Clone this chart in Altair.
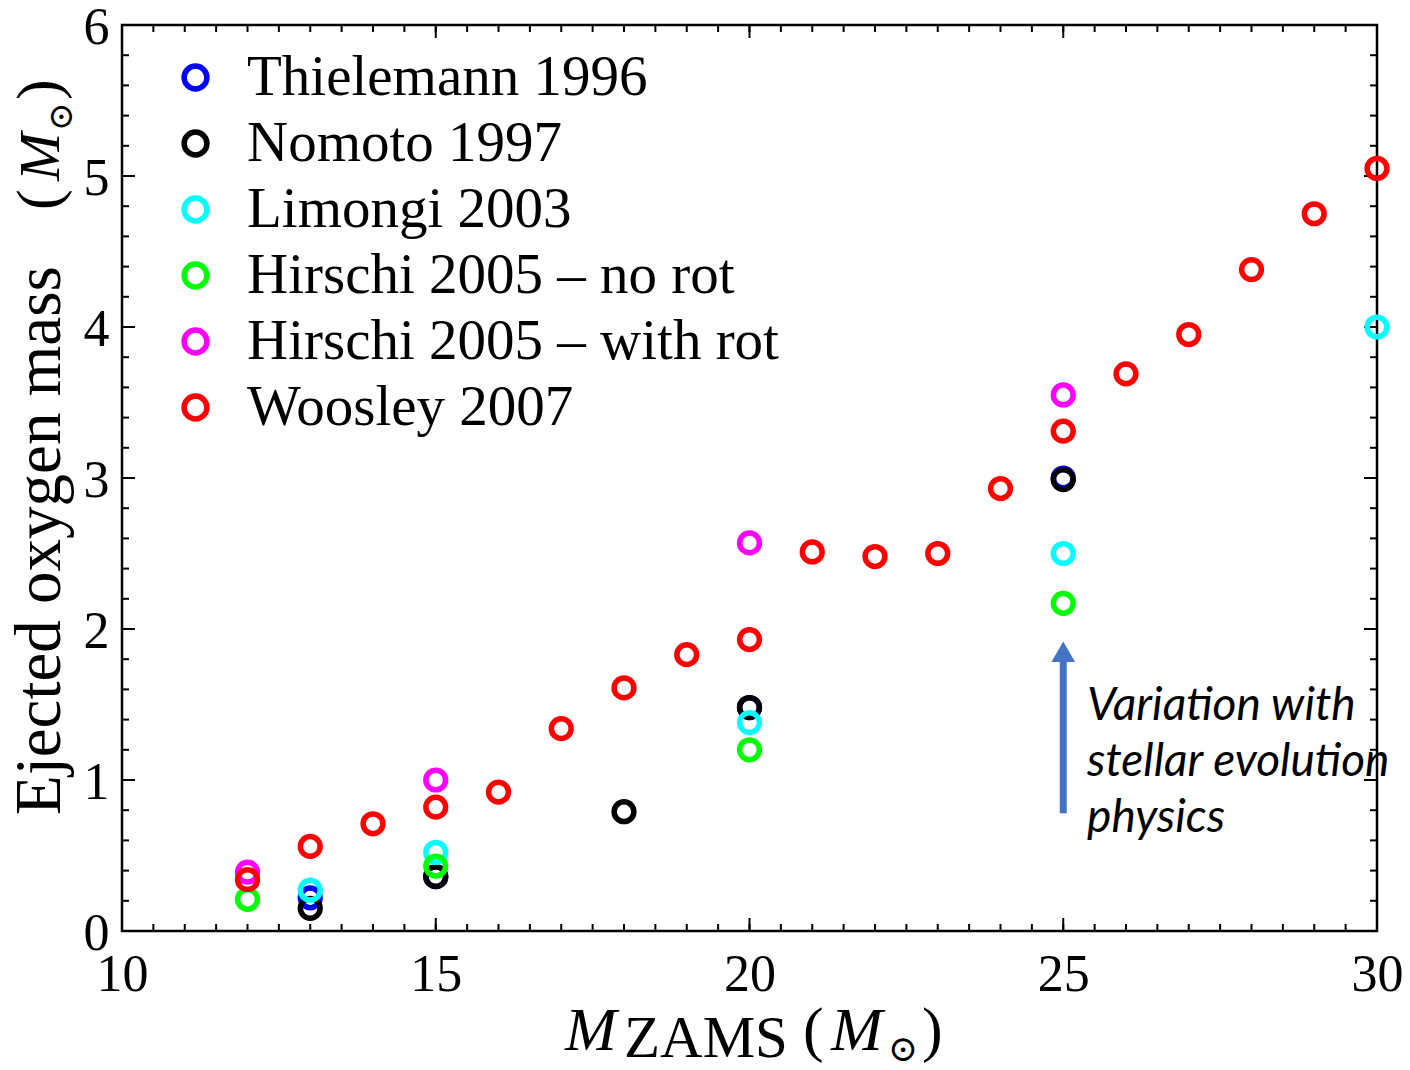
import altair as alt
import pandas as pd

# ---------------- data ----------------
series_names = ["Thielemann 1996", "Nomoto 1997", "Limongi 2003",
                "Hirschi 2005 – no rot", "Hirschi 2005 – with rot", "Woosley 2007"]
series_colors = ["#0000ff", "#000000", "#00ffff", "#00ff00", "#ff00ff", "#ff0000"]

thielemann_x = [13, 15, 20, 25]
thielemann_y = [0.22, 0.36, 1.48, 3.00]
nomoto_x = [13, 15, 18, 20, 25]
nomoto_y = [0.15, 0.36, 0.79, 1.48, 2.99]
limongi_x = [13, 15, 20, 25, 30]
limongi_y = [0.27, 0.52, 1.38, 2.50, 4.00]
hirschi_norot_x = [12, 15, 20, 25]
hirschi_norot_y = [0.21, 0.43, 1.20, 2.17]
hirschi_rot_x = [12, 15, 20, 25]
hirschi_rot_y = [0.39, 1.00, 2.57, 3.55]
woosley_x = [12, 13, 14, 15, 16, 17, 18, 19, 20, 21, 22, 23, 24, 25, 26, 27, 28, 29, 30]
woosley_y = [0.34, 0.56, 0.71, 0.82, 0.92, 1.34, 1.61, 1.83, 1.93, 2.51, 2.48, 2.50,
             2.93, 3.31, 3.69, 3.95, 4.38, 4.75, 5.05]

x_tick_labels = [10, 15, 20, 25, 30]
y_tick_labels = [0, 1, 2, 3, 4, 5, 6]
x_minor = [10 + 0.5 * i for i in range(41)]
y_minor = [0.2 * i for i in range(31)]

arrow_x = [25]
arrow_y0 = [0.78]
arrow_y1 = [1.80]
arrow_head_y = [1.85]
note_lines = ["Variation with", "stellar evolution", "physics"]
note_x = [25.38]
note_y = [1.40]

# ---------------- layout ----------------
W, H = 1255, 906
SERIF = "Liberation Serif"

rows = []
for name, xs, ys in zip(series_names,
                        [thielemann_x, nomoto_x, limongi_x, hirschi_norot_x, hirschi_rot_x, woosley_x],
                        [thielemann_y, nomoto_y, limongi_y, hirschi_norot_y, hirschi_rot_y, woosley_y]):
    for a, b in zip(xs, ys):
        rows.append({"series": name, "m": a, "o": b})
df = pd.DataFrame(rows)

xscale = alt.Scale(domain=[10, 30], nice=False, zero=False)
yscale = alt.Scale(domain=[0, 6], nice=False, zero=False)

points = alt.Chart(df).mark_point(filled=False, strokeWidth=5.5, size=390, opacity=1).encode(
    x=alt.X("m:Q", scale=xscale,
            axis=alt.Axis(values=x_tick_labels, ticks=False, domain=False, grid=False,
                          labelFont=SERIF, labelFontSize=52, labelColor="black",
                          labelFlush=False, labelOverlap=False,
                          labelPadding=18, title=None, format="d")),
    y=alt.Y("o:Q", scale=yscale,
            axis=alt.Axis(values=y_tick_labels, ticks=False, domain=False, grid=False,
                          labelFont=SERIF, labelFontSize=52, labelColor="black",
                          labelFlush=False, labelOverlap=False, labelOffset=2,
                          labelPadding=13, title=None, format="d")),
    color=alt.Color("series:N", sort=series_names,
                    scale=alt.Scale(domain=series_names, range=series_colors),
                    legend=alt.Legend(orient="none", legendX=45, legendY=24, title=None,
                                      labelFont=SERIF, labelFontSize=57, labelColor="black",
                                      labelLimit=0, symbolType="circle", symbolSize=520,
                                      symbolStrokeWidth=5.5, labelOffset=23, rowPadding=8,
                                      padding=0, symbolFillColor="transparent")),
)

# ---------------- inward ticks ----------------
ymin_df = pd.DataFrame({"v": y_minor})
ymaj_df = pd.DataFrame({"v": y_tick_labels})
xmin_df = pd.DataFrame({"v": x_minor})
xmaj_df = pd.DataFrame({"v": x_tick_labels})

def yticks(d, L):
    left = alt.Chart(d).mark_rule(color="black", strokeWidth=2).encode(
        y=alt.Y("v:Q", scale=yscale), x=alt.value(0), x2=alt.value(L))
    right = alt.Chart(d).mark_rule(color="black", strokeWidth=2).encode(
        y=alt.Y("v:Q", scale=yscale), x=alt.value(W - L), x2=alt.value(W))
    return left + right

def xticks(d, L):
    bottom = alt.Chart(d).mark_rule(color="black", strokeWidth=2).encode(
        x=alt.X("v:Q", scale=xscale), y=alt.value(H), y2=alt.value(H - L))
    top = alt.Chart(d).mark_rule(color="black", strokeWidth=2).encode(
        x=alt.X("v:Q", scale=xscale), y=alt.value(0), y2=alt.value(L))
    return bottom + top

ticks = yticks(ymin_df, 7) + yticks(ymaj_df, 13) + xticks(xmin_df, 7) + xticks(xmaj_df, 13)

# ---------------- arrow + note ----------------
arrow_df = pd.DataFrame({"x": arrow_x, "y0": arrow_y0, "y1": arrow_y1, "yh": arrow_head_y})
shaft = alt.Chart(arrow_df).mark_rule(color="#4472c4", strokeWidth=7).encode(
    x=alt.X("x:Q", scale=xscale), y=alt.Y("y0:Q", scale=yscale), y2="y1:Q")
head = alt.Chart(arrow_df).mark_point(shape="triangle-up", filled=True, color="#4472c4",
                                      size=560, opacity=1).encode(
    x=alt.X("x:Q", scale=xscale), y=alt.Y("yh:Q", scale=yscale))
note_df = pd.DataFrame({"x": note_x, "y": note_y, "t": [note_lines]})
note = alt.Chart(note_df).mark_text(font="Lato", fontStyle="italic", fontSize=46,
                                    align="left", baseline="alphabetic", lineHeight=56,
                                    color="black").encode(
    x=alt.X("x:Q", scale=xscale), y=alt.Y("y:Q", scale=yscale), text="t")

# ---------------- axis titles built from pieces ----------------
one = pd.DataFrame({"k": [0]})

def piece(s, x, y, size, italic=False, angle=0, font=SERIF):
    kw = dict(text=s, fontSize=size, font=font, align="left", baseline="alphabetic",
              color="black", fontStyle="italic" if italic else "normal")
    if angle:
        kw["angle"] = angle
    return alt.Chart(one).mark_text(**kw).encode(x=alt.value(x), y=alt.value(y))

xt = (piece("M", 443, 1025, 62, italic=True)
      + piece("ZAMS", 502, 1032, 59)
      + piece("(", 681, 1025, 62)
      + piece("M", 709, 1025, 62, italic=True)
      + piece("⊙", 766, 1036, 36, font="DejaVu Serif")
      + piece(")", 800, 1025, 62))

yt = (piece("Ejected oxygen mass", -62, 790, 65, angle=270)
      + piece("(", -63, 185, 62, angle=270)
      + piece("M", -63, 156, 58, italic=True, angle=270)
      + piece("⊙", -50, 106, 34, angle=270, font="DejaVu Serif")
      + piece(")", -63, 75, 62, angle=270))

chart = alt.layer(ticks, points, shaft, head, note, xt, yt).properties(
    width=W, height=H,
    autosize=alt.AutoSizeParams(type="none"),
    padding={"left": 122, "top": 25, "right": 33, "bottom": 139},
    background="white",
).configure_view(stroke="black", strokeWidth=2.5)

chart.save("out.html", embed_options={"renderer": "svg", "actions": False})
